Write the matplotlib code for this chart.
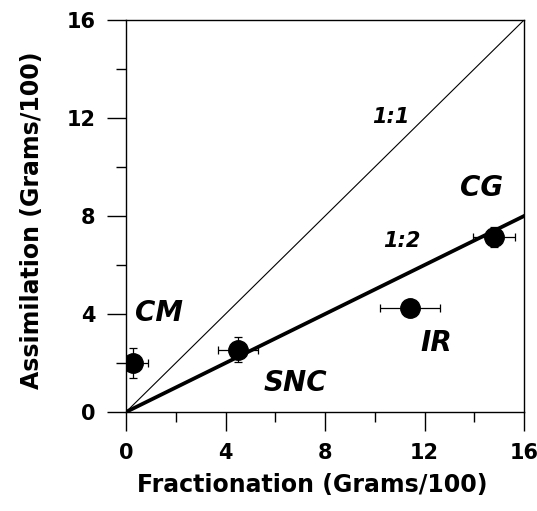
import numpy as np
from matplotlib import pyplot as plt
from matplotlib.ticker import MultipleLocator

plt.rcParams['font.family'] = ['DejaVu Sans']

names = ["CM", "SNC", "IR", "CG"]
fract = [0.3, 4.5, 11.4, 14.8]
assim = [2.0, 2.55, 4.25, 7.15]
fract_err = [0.6, 0.8, 1.2, 0.85]
assim_err = [0.6, 0.5, 0.2, 0.4]

label_pos = {"CM": (1.33, 4.04), "SNC": (6.8, 1.18), "IR": (12.46, 2.82), "CG": (14.27, 9.14)}

fig = plt.figure(figsize=(5.37, 5.11), dpi=100)
ax = fig.add_axes([0.2346, 0.1937, 0.7414, 0.7673])

line_x = np.array([0, 16])
ax.plot(line_x, line_x, color="black", lw=0.8)
ax.plot(line_x, line_x / 2, color="black", lw=2.7)

ax.errorbar(fract, assim, xerr=fract_err, yerr=assim_err, fmt="o", color="black",
            markersize=14, elinewidth=0.9, capsize=3, capthick=0.9)

for n in names:
    px, py = label_pos[n]
    ax.text(px, py, n, fontsize=20, fontweight="bold", fontstyle="italic",
            ha="center", va="center")
ax.text(10.65, 12.04, "1:1", fontsize=15, fontweight="bold", fontstyle="italic", ha="center", va="center")
ax.text(11.1, 6.98, "1:2", fontsize=15, fontweight="bold", fontstyle="italic", ha="center", va="center")

ax.set_xlim(0, 16)
ax.set_ylim(0, 16)
ax.xaxis.set_major_locator(MultipleLocator(4))
ax.xaxis.set_minor_locator(MultipleLocator(2))
ax.yaxis.set_major_locator(MultipleLocator(4))
ax.yaxis.set_minor_locator(MultipleLocator(2))
ax.tick_params(which="major", direction="out", length=14, width=1, labelsize=15, pad=8)
ax.tick_params(which="minor", direction="out", length=7, width=1)
for lab in ax.get_xticklabels() + ax.get_yticklabels():
    lab.set_fontweight("bold")
for s in ax.spines.values():
    s.set_linewidth(1)

ax.set_xlabel("Fractionation (Grams/100)", fontsize=17, fontweight="bold")
ax.set_ylabel("Assimilation (Grams/100)", fontsize=17, fontweight="bold")
ax.xaxis.set_label_coords(0.467, -0.155)
ax.yaxis.set_label_coords(-0.207, 0.49)

fig.savefig("out.png", dpi=100)
